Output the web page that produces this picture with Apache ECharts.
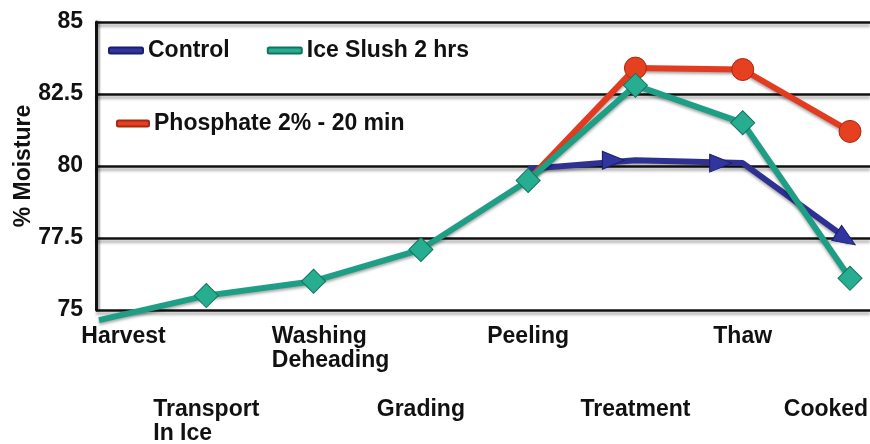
<!DOCTYPE html>
<html><head><meta charset="utf-8">
<script src="https://cdn.jsdelivr.net/npm/echarts@6/dist/echarts.min.js"></script>
<style>html,body{margin:0;padding:0;background:#fff}#c{width:870px;height:444px}</style>
</head><body><div id="c"></div>
<script>
const categories = ['Harvest','Transport\nIn Ice','Washing\nDeheading','Grading','Peeling','Treatment','Thaw','Cooked'];
const yTicks = [75, 77.5, 80, 82.5, 85];
const controlValues = [null, null, null, null, 79.9, 80.2, 80.1, 77.4];
const iceSlushValues = [74.65, 75.5, 76.0, 77.1, 79.5, 82.8, 81.5, 76.1];
const phosphateValues = [null, null, null, null, 79.5, 83.4, 83.35, 81.2];

const FONT = 'Liberation Sans';
const labelStyleKeys = ['h','l','w','a','a','a','a','c'];

const chart = echarts.init(document.getElementById('c'), null, {renderer:'canvas'});

const controlData = controlValues.map((v, i) => {
  if (v === null) return null;
  if (i === 4) return {value: v, symbol: 'none'};
  if (i === 7) return {value: v, symbol: 'triangle', symbolRotate: -123, symbolSize: [18, 22], symbolOffset: [-4, -2]};
  return {value: v, symbol: 'triangle', symbolRotate: -90, symbolSize: [18, 22], symbolOffset: [-22, 0]};
});
const iceData = iceSlushValues.map((v, i) => i === 0 ? {value: v, symbol: 'none'} : {value: v});
const phosData = phosphateValues.map((v, i) => {
  if (v === null) return null;
  if (i === 4) return {value: v, symbol: 'none'};
  return {value: v};
});

const txt = {color:'#111', fontFamily: FONT, fontWeight:'bold', fontSize:23, lineHeight:24};
const legendText = {color:'#111', fontFamily: FONT, fontWeight:'bold', fontSize:23};

chart.setOption({
  animation: false,
  backgroundColor: '#fff',
  legend: [
    {
      data: ['Control', 'Ice Slush 2 hrs'],
      left: 103, top: 34, itemWidth: 34, itemHeight: 6, itemGap: 37,
      icon: 'roundRect',
      textStyle: legendText
    },
    {
      data: ['Phosphate 2% - 20 min'],
      left: 111, top: 107, itemWidth: 32, itemHeight: 6,
      icon: 'roundRect',
      textStyle: legendText
    }
  ],
  grid: [
    {left: 96, right: 0, top: 22, bottom: 134, containLabel: false, outerBoundsMode: 'none'},
    {left: 99, right: 20, top: 22, bottom: 134, containLabel: false, outerBoundsMode: 'none'}
  ],
  xAxis: [
    {gridIndex: 0, type: 'category', data: categories, boundaryGap: false, show: false},
    {
      gridIndex: 1, type: 'category', data: categories, boundaryGap: false,
      axisLine: {show: false}, axisTick: {show: false}, splitLine: {show: false},
      axisLabel: {
        interval: 0, margin: 15, hideOverlap: false,
        formatter: function (v, i) {
          const st = labelStyleKeys[i];
          let s = v.split('\n').map(l => '{' + st + '|' + l + '}').join('\n');
          if (i % 2 === 1) s = '{sp| }\n' + s;
          return s;
        },
        rich: {
          a: Object.assign({}, txt),
          l: Object.assign({}, txt, {align: 'left'}),
          h: Object.assign({}, txt, {padding: [0, 0, 0, 49]}),
          w: Object.assign({}, txt, {align: 'left', padding: [0, 0, 0, 34]}),
          c: Object.assign({}, txt, {padding: [0, 48, 0, 0]}),
          sp: {lineHeight: 73, fontSize: 10}
        }
      }
    }
  ],
  yAxis: [
    {
      gridIndex: 0, type: 'value', min: yTicks[0], max: yTicks[yTicks.length - 1], interval: 2.5,
      name: '% Moisture', nameLocation: 'middle', nameGap: 61, nameRotate: 90, nameMoveOverlap: false,
      nameTextStyle: {color:'#111', fontFamily: FONT, fontWeight:'bold', fontSize:23},
      axisLine: {show: true, lineStyle: {color:'#111', width: 3, shadowColor:'rgba(0,0,0,0.35)', shadowOffsetX: 2, shadowBlur: 2}},
      axisTick: {show: false},
      axisLabel: {margin: 13, color:'#111', fontFamily: FONT, fontWeight:'bold', fontSize:23},
      splitLine: {show: true, lineStyle: {color:'#111', width: 2.5, shadowColor:'rgba(0,0,0,0.35)', shadowOffsetY: 3, shadowBlur: 3}}
    },
    {
      gridIndex: 1, type: 'value', min: yTicks[0], max: yTicks[yTicks.length - 1], interval: 2.5, show: false,
      splitLine: {show: false}
    }
  ],
  series: [
    {
      name: 'Control', type: 'line', xAxisIndex: 1, yAxisIndex: 1, clip: false,
      data: controlData, connectNulls: false,
      color: '#2e3192',
      lineStyle: {color: '#2e3192', width: 6, shadowColor:'rgba(0,0,0,0.35)', shadowOffsetY: 2, shadowBlur: 3},
      itemStyle: {color: '#3035a0', borderColor: '#1c1f6a', borderWidth: 1}
    },
    {
      name: 'Phosphate 2% - 20 min', type: 'line', xAxisIndex: 1, yAxisIndex: 1, clip: false,
      data: phosData, symbol: 'circle', symbolSize: 22,
      color: '#e23b1f',
      lineStyle: {color: '#e23b1f', width: 6, shadowColor:'rgba(0,0,0,0.35)', shadowOffsetY: 2, shadowBlur: 3},
      itemStyle: {color: '#e5401f', borderColor: '#a82810', borderWidth: 1}
    },
    {
      name: 'Ice Slush 2 hrs', type: 'line', xAxisIndex: 1, yAxisIndex: 1, clip: false,
      data: iceData, symbol: 'rect', symbolSize: 17, symbolRotate: 45,
      color: '#1e9f85',
      lineStyle: {color: '#1e9f85', width: 6, shadowColor:'rgba(0,0,0,0.35)', shadowOffsetY: 2, shadowBlur: 3},
      itemStyle: {color: '#27ae90', borderColor: '#127260', borderWidth: 1}
    }
  ]
});
</script>
</body></html>
